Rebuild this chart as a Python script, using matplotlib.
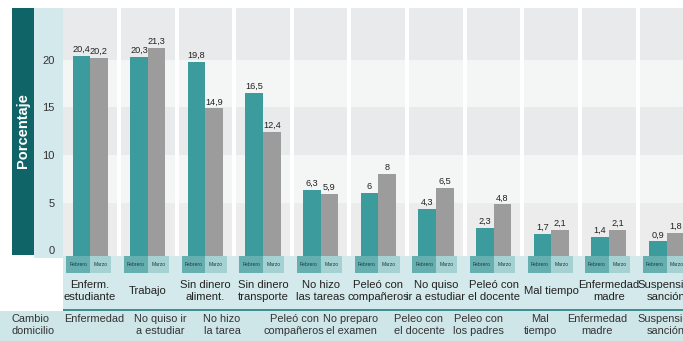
import matplotlib
matplotlib.use("Agg")
import matplotlib.pyplot as plt
from matplotlib.patches import Rectangle
import numpy as np

# datos
categorias = ["Enferm.\nestudiante", "Trabajo", "Sin dinero\naliment.", "Sin dinero\ntransporte",
              "No hizo\nlas tareas", "Peleó con\ncompañeros", "No quiso\nir a estudiar",
              "Peleó con\nel docente", "Mal tiempo", "Enfermedad\nmadre", "Suspensión\nsanción"]
febrero = [20.4, 20.3, 19.8, 16.5, 6.3, 6, 4.3, 2.3, 1.7, 1.4, 0.9]
marzo = [20.2, 21.3, 14.9, 12.4, 5.9, 8, 6.5, 4.8, 2.1, 2.1, 1.8]
meses = ["Febrero", "Marzo"]
yticks = [0, 5, 10, 15, 20]

# fila inferior de etiquetas
otras = ["Cambio\ndomicilio", "Enfermedad", "No quiso ir\na estudiar", "No hizo\nla tarea",
         "Peleó con\ncompañeros", "No preparo\nel examen", "Peleo con\nel docente",
         "Peleo con\nlos padres", "Mal\ntiempo", "Enfermedad\nmadre", "Suspensión\nsanción"]
otras_x = [12, 94, 160, 222, 294, 351, 419, 478, 540, 597, 666]

TEAL = "#3c9c9d"
GRIS = "#9c9c9c"
OSCURO = "#0f6467"
CLARO = "#d4e9eb"
SANS = ["Liberation Sans", "DejaVu Sans"]
plt.rcParams["font.family"] = SANS

W, H = 683, 341
fig = plt.figure(figsize=(W / 100, H / 100), dpi=100)

def box(l, t, r, b):
    return [l / W, 1 - b / H, (r - l) / W, (b - t) / H]

# capa de fondo en pixeles
bg = fig.add_axes([0, 0, 1, 1], zorder=0)
bg.set_xlim(0, W)
bg.set_ylim(H, 0)
bg.axis("off")
bg.add_patch(Rectangle((12, 8), 22, 247, color=OSCURO, lw=0))
bg.add_patch(Rectangle((34, 8), 29, 250, color=CLARO, lw=0))
bg.add_patch(Rectangle((0, 311), W, 30, color="#cfe6e9", lw=0))
bg.text(23, 131, "Porcentaje", rotation=90, color="white", fontsize=10.5,
        fontweight="bold", ha="center", va="center")
for txt, xp in zip(otras, otras_x):
    izq = xp < 30
    bg.text(xp, 314, txt, ha="left" if izq else "center", va="top", fontsize=7.9,
            color="#333333", linespacing=1.3,
            multialignment="left" if izq else "center")

# grafico principal
ax = fig.add_axes(box(63, 8, W, 256), zorder=2)
ax.patch.set_visible(False)
y0 = -0.63
ax.set_xlim(-0.47, 10.286)
ax.set_ylim(y0, 25.47)
for s in ax.spines.values():
    s.set_visible(False)
x = np.arange(len(categorias))

# franjas de fondo por columna
bandas = [(y0, 5, "#ececed"), (5, 10, "#f4f5f5"), (10, 15, "#e9eaeb"),
          (15, 20, "#f4f5f5"), (20, 25.47, "#e9eaeb")]
for k in x:
    for lo, hi, c in bandas:
        ax.add_patch(Rectangle((k - 0.465, lo), 0.93, hi - lo, color=c, lw=0, zorder=0))

w = 0.305
ax.bar(x - w / 2, np.array(febrero) - y0, w, bottom=y0, color=TEAL, zorder=2)
ax.bar(x + w / 2, np.array(marzo) - y0, w, bottom=y0, color=GRIS, zorder=2)
for xs, vals in ((x - w / 2, febrero), (x + w / 2, marzo)):
    for xi, v in zip(xs, vals):
        ax.annotate(f"{v:g}".replace(".", ","), (xi, v), xytext=(0, 1.5),
                    textcoords="offset points", ha="center", va="bottom",
                    fontsize=6.6, color="#222222")

ax.set_xticks([])
ax.set_yticks(yticks)
ax.set_yticklabels([str(t) for t in yticks], fontsize=8, color="#333333")
ax.tick_params(axis="y", length=0, pad=6)

# franja de meses y nombres de categoria
lab = fig.add_axes(box(63, 256, W, 311), sharex=ax, zorder=1)
lab.set_ylim(311, 256)
lab.axis("off")
lab.add_patch(Rectangle((-0.47, 256), 11, 55, color=CLARO, lw=0, zorder=0))
for k in x:
    lab.add_patch(Rectangle((k - 0.41, 256), 0.41, 17, color="#65afb1", lw=0))
    lab.add_patch(Rectangle((k, 256), 0.37, 17, color="#a5d1d3", lw=0))
    lab.text(k - 0.205, 264.5, meses[0], ha="center", va="center", fontsize=3.6,
             color="#1d3b3c")
    lab.text(k + 0.185, 264.5, meses[1], ha="center", va="center", fontsize=3.6,
             color="#1d3b3c")
    lab.text(k, 291, categorias[k], ha="center", va="center", fontsize=8.1,
             color="#222222", linespacing=1.2)
lab.add_patch(Rectangle((-0.47, 308.5), 11, 2.5, color="#3d9092", lw=0))

fig.savefig("out.png", dpi=100)
